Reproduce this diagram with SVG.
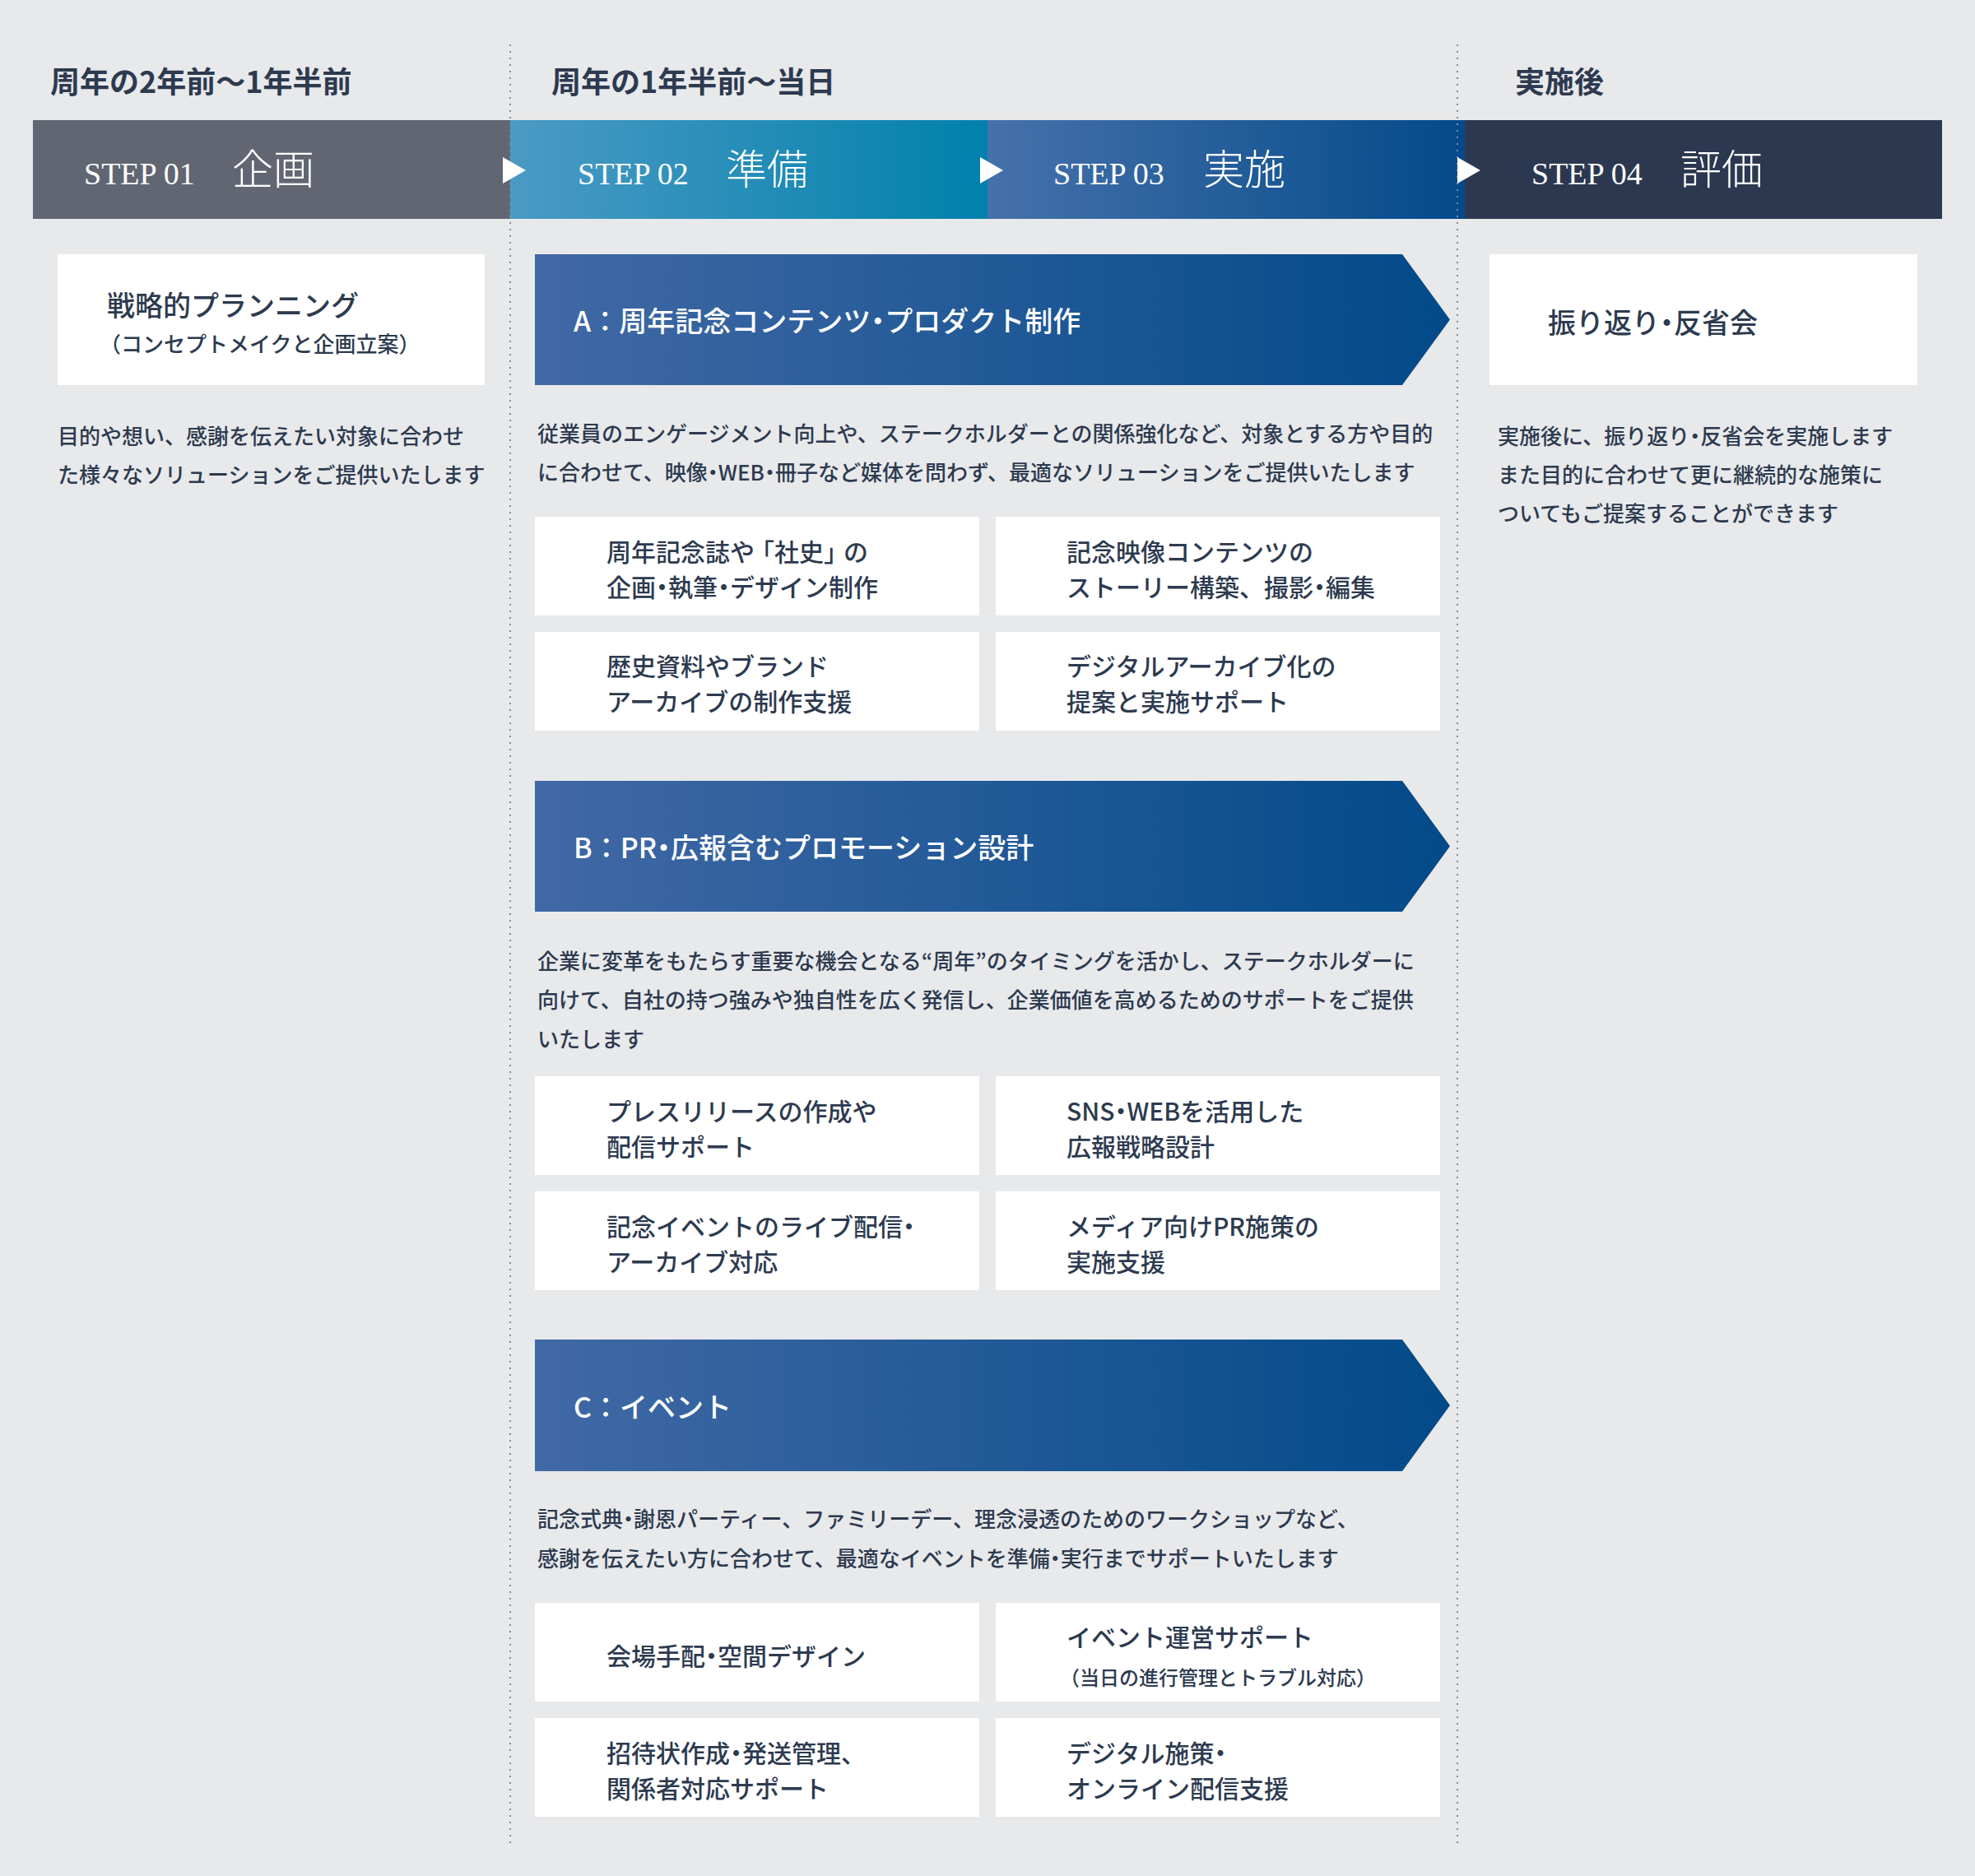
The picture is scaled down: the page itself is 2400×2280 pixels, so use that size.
<svg xmlns="http://www.w3.org/2000/svg" width="2400" height="2280" viewBox="0 0 2400 2280">
<defs>
<linearGradient id="g02" x1="0" y1="0" x2="1" y2="0"><stop offset="0" stop-color="#4b9ac4"/><stop offset="1" stop-color="#0081ac"/></linearGradient>
<linearGradient id="g03" x1="0" y1="0" x2="1" y2="0"><stop offset="0" stop-color="#4671aa"/><stop offset="1" stop-color="#034a8a"/></linearGradient>
<linearGradient id="gb" x1="0" y1="0" x2="1" y2="0"><stop offset="0" stop-color="#4169a5"/><stop offset="1" stop-color="#024a89"/></linearGradient>
<style>
.jp{font-family:"Noto Sans CJK JP","Noto Sans",sans-serif;fill:#2d3a4f}
.hd{font-size:36px;font-weight:700}
.desc{font-size:26px;font-weight:500}
.box{fill:#ffffff}
.bt{font-size:30px;font-weight:500}
.big{font-size:34px;font-weight:500}
.ban{font-family:"Noto Sans CJK JP","Noto Sans",sans-serif;font-size:34px;font-weight:500;fill:#ffffff}
.step{font-family:"Liberation Serif",serif;font-size:38px;fill:#ffffff}
.kan{font-family:"Noto Sans CJK JP",serif;font-size:50px;font-weight:300;fill:#ffffff}
.dot{stroke:#858b95;stroke-width:2;stroke-dasharray:2 6;fill:none}
.tri{fill:#ffffff}
.s26{letter-spacing:-6.5px}
.s30{letter-spacing:-7.5px}
.s34{letter-spacing:-8.5px}
.s6{letter-spacing:-6px}
</style>
</defs>
<rect x="0" y="0" width="2400" height="2280" fill="#e8e9eb"/>

<g id="headers">
<text class="jp hd" x="61" y="113">周年の2年前〜1年半前</text>
<text class="jp hd" x="670" y="113">周年の1年半前〜当日</text>
<text class="jp hd" x="1841" y="113">実施後</text>
</g>

<g id="step01">
<rect x="40" y="146" width="580" height="120" fill="#616672"/>
<text class="step" x="102" y="224">STEP 01</text>
<text class="kan" x="282" y="224">企画</text>
</g>
<g id="step02">
<rect x="620" y="146" width="580" height="120" fill="url(#g02)"/>
<text class="step" x="702" y="224">STEP 02</text>
<text class="kan" x="882" y="224">準備</text>
</g>
<g id="step03">
<rect x="1200" y="146" width="580" height="120" fill="url(#g03)"/>
<text class="step" x="1280" y="224">STEP 03</text>
<text class="kan" x="1462" y="224">実施</text>
</g>
<g id="step04">
<rect x="1780" y="146" width="580" height="120" fill="#2b3850"/>
<text class="step" x="1861" y="224">STEP 04</text>
<text class="kan" x="2042" y="224">評価</text>
</g>

<g id="dividers">
<line class="dot" x1="620" y1="54" x2="620" y2="2244"/>
<line class="dot" x1="1771" y1="54" x2="1771" y2="2244"/>
</g>

<g id="connectors">
<polygon class="tri" points="611,191 639,207 611,223"/>
<polygon class="tri" points="1191,191 1219,207 1191,223"/>
<polygon class="tri" points="1771,191 1799,207 1771,223"/>
</g>

<g id="planning">
<rect class="box" x="70" y="309" width="519" height="159"/>
<text class="jp big" x="130" y="384">戦略的プランニング</text>
<text class="jp" x="121" y="428" font-size="26" font-weight="500">（コンセプトメイクと企画立案）</text>
</g>
<g id="planning-desc">
<text class="jp desc" x="70" y="540">目的や想い、感謝を伝えたい対象に合わせ</text>
<text class="jp desc" x="70" y="587">た様々なソリューションをご提供いたします</text>
</g>

<g id="bannerA">
<polygon points="650,309 1704,309 1762,388.5 1704,468 650,468" fill="url(#gb)"/>
<text class="ban" x="697" y="403">A：周年記念コンテン<tspan class="s34">ツ・</tspan>プロダクト制作</text>
</g>
<g id="descA">
<text class="jp desc" x="653" y="537">従業員のエンゲージメント向上や、ステークホルダーとの関係強化など、対象とする方や目的</text>
<text class="jp desc" x="653" y="584">に合わせて、映<tspan class="s26">像・</tspan>WE<tspan class="s26">B・</tspan>冊子など媒体を問わず、最適なソリューションをご提供いたします</text>
</g>
<g id="A1">
<rect class="box" x="650" y="628" width="540" height="120"/>
<text class="jp bt" x="737" y="682">周年記念誌<tspan class="s6">や</tspan>「社史<tspan class="s6">」</tspan>の</text>
<text class="jp bt" x="737" y="725">企<tspan class="s30">画・</tspan>執<tspan class="s30">筆・</tspan>デザイン制作</text>
</g>
<g id="A2">
<rect class="box" x="1210" y="628" width="540" height="120"/>
<text class="jp bt" x="1296" y="682">記念映像コンテンツの</text>
<text class="jp bt" x="1296" y="725">ストーリー構築、撮<tspan class="s30">影・</tspan>編集</text>
</g>
<g id="A3">
<rect class="box" x="650" y="768" width="540" height="120"/>
<text class="jp bt" x="737" y="821">歴史資料やブランド</text>
<text class="jp bt" x="737" y="864">アーカイブの制作支援</text>
</g>
<g id="A4">
<rect class="box" x="1210" y="768" width="540" height="120"/>
<text class="jp bt" x="1296" y="821">デジタルアーカイブ化の</text>
<text class="jp bt" x="1296" y="864">提案と実施サポート</text>
</g>

<g id="bannerB">
<polygon points="650,949 1704,949 1762,1028.5 1704,1108 650,1108" fill="url(#gb)"/>
<text class="ban" x="697" y="1043">B：P<tspan class="s34">R・</tspan>広報含むプロモーション設計</text>
</g>
<g id="descB">
<text class="jp desc" x="653" y="1178">企業に変革をもたらす重要な機会となる“周年”のタイミングを活かし、ステークホルダーに</text>
<text class="jp desc" x="653" y="1225">向けて、自社の持つ強みや独自性を広く発信し、企業価値を高めるためのサポートをご提供</text>
<text class="jp desc" x="653" y="1273">いたします</text>
</g>
<g id="B1">
<rect class="box" x="650" y="1308" width="540" height="120"/>
<text class="jp bt" x="737" y="1362">プレスリリースの作成や</text>
<text class="jp bt" x="737" y="1405">配信サポート</text>
</g>
<g id="B2">
<rect class="box" x="1210" y="1308" width="540" height="120"/>
<text class="jp bt" x="1296" y="1362">SN<tspan class="s30">S・</tspan>WEBを活用した</text>
<text class="jp bt" x="1296" y="1405">広報戦略設計</text>
</g>
<g id="B3">
<rect class="box" x="650" y="1448" width="540" height="120"/>
<text class="jp bt" x="737" y="1502">記念イベントのライブ配<tspan class="s30">信</tspan>・</text>
<text class="jp bt" x="737" y="1545">アーカイブ対応</text>
</g>
<g id="B4">
<rect class="box" x="1210" y="1448" width="540" height="120"/>
<text class="jp bt" x="1296" y="1502">メディア向けPR施策の</text>
<text class="jp bt" x="1296" y="1545">実施支援</text>
</g>

<g id="bannerC">
<polygon points="650,1628 1704,1628 1762,1708 1704,1788 650,1788" fill="url(#gb)"/>
<text class="ban" x="697" y="1723">C：イベント</text>
</g>
<g id="descC">
<text class="jp desc" x="653" y="1856">記念式<tspan class="s26">典・</tspan>謝恩パーティー、ファミリーデー、理念浸透のためのワークショップなど、</text>
<text class="jp desc" x="653" y="1904">感謝を伝えたい方に合わせて、最適なイベントを準<tspan class="s26">備・</tspan>実行までサポートいたします</text>
</g>
<g id="C1">
<rect class="box" x="650" y="1948" width="540" height="120"/>
<text class="jp bt" x="737" y="2024">会場手<tspan class="s30">配・</tspan>空間デザイン</text>
</g>
<g id="C2">
<rect class="box" x="1210" y="1948" width="540" height="120"/>
<text class="jp bt" x="1296" y="2001">イベント運営サポート</text>
<text class="jp" x="1288" y="2048" font-size="24" font-weight="500">（当日の進行管理とトラブル対応）</text>
</g>
<g id="C3">
<rect class="box" x="650" y="2088" width="540" height="120"/>
<text class="jp bt" x="737" y="2142">招待状作<tspan class="s30">成・</tspan>発送管理、</text>
<text class="jp bt" x="737" y="2185">関係者対応サポート</text>
</g>
<g id="C4">
<rect class="box" x="1210" y="2088" width="540" height="120"/>
<text class="jp bt" x="1296" y="2142">デジタル施<tspan class="s30">策</tspan>・</text>
<text class="jp bt" x="1296" y="2185">オンライン配信支援</text>
</g>

<g id="review">
<rect class="box" x="1810" y="309" width="520" height="159"/>
<text class="jp big" x="1881" y="405">振り返<tspan class="s34">り・</tspan>反省会</text>
</g>
<g id="review-desc">
<text class="jp desc" x="1820" y="540">実施後に、振り返<tspan class="s26">り・</tspan>反省会を実施します</text>
<text class="jp desc" x="1820" y="587">また目的に合わせて更に継続的な施策に</text>
<text class="jp desc" x="1820" y="634">ついてもご提案することができます</text>
</g>
</svg>
